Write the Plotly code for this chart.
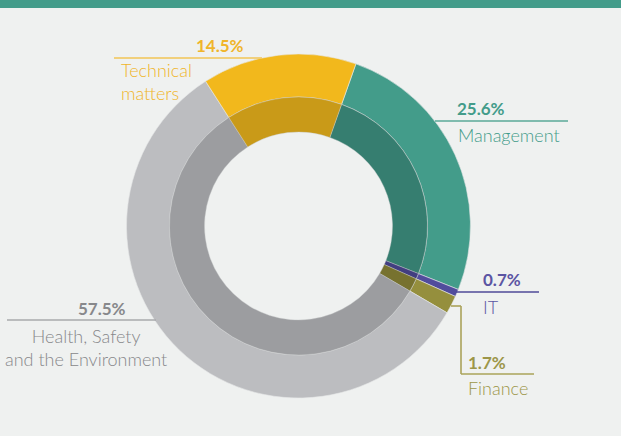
import plotly.graph_objects as go

W, H = 621, 436

categories = ["Management", "IT", "Finance", "Health, Safety and the Environment", "Technical matters"]
shares = [25.6, 0.7, 1.7, 57.5, 14.5]
pct_labels = ["25.6%", "0.7%", "1.7%", "57.5%", "14.5%"]

outer_colors = ["#439c8a", "#514c9c", "#958f3d", "#bcbdc0", "#f2b81c"]
inner_colors = ["#367e70", "#423e80", "#77722f", "#9c9da0", "#c99a18"]
text_colors = ["#439c8a", "#5b55a3", "#9c9648", "#87888b", "#f0b52a"]
line_colors = ["#5aa898", "#4f4a98", "#aaa35a", "#a9aaad", "#f2c456"]

CX, CY = 298.5, 226
R_OUT, R_MID, R_IN = 172, 129, 94


def px(x):
    return x / W


def py(y):
    return 1 - y / H


def dom(r):
    return dict(x=[px(CX - r), px(CX + r)], y=[py(CY + r), py(CY - r)])


fig = go.Figure()
fig.add_trace(go.Pie(
    labels=categories, values=shares, sort=False, direction="clockwise",
    rotation=19.5, hole=R_MID / R_OUT, domain=dom(R_OUT),
    marker=dict(colors=outer_colors, line=dict(color="#e6e8e7", width=0.6)),
    textinfo="none", hoverinfo="skip", showlegend=False,
))
fig.add_trace(go.Pie(
    labels=categories, values=shares, sort=False, direction="clockwise",
    rotation=19.5, hole=R_IN / R_MID, domain=dom(R_MID),
    marker=dict(colors=inner_colors, line=dict(color="#c8cac9", width=0.4)),
    textinfo="none", hoverinfo="skip", showlegend=False,
))

shapes = [
    dict(type="rect", xref="paper", yref="paper", x0=0, x1=1, y0=py(8), y1=1.01,
         fillcolor="#439c8a", line=dict(width=0), layer="above"),
]


def hline(x0, x1, y, color):
    shapes.append(dict(type="line", xref="paper", yref="paper",
                       x0=px(x0), x1=px(x1), y0=py(y), y1=py(y),
                       line=dict(color=color, width=1.6)))


def vline(x, y0, y1, color):
    shapes.append(dict(type="line", xref="paper", yref="paper",
                       x0=px(x), x1=px(x), y0=py(y0), y1=py(y1),
                       line=dict(color=color, width=1.6)))


# leader lines
hline(114, 262, 58, line_colors[4])   # Technical
hline(435, 568, 121, line_colors[0])  # Management
hline(456, 539, 292, line_colors[1])  # IT
hline(451, 461, 306, line_colors[2])  # Finance
vline(461, 306, 374, line_colors[2])
hline(461, 534, 374, line_colors[2])
hline(7, 156, 320, line_colors[3])    # Health

annotations = []
FONT = "Lato, 'Noto Sans', sans-serif"


def text(t, x, y, color, size, bold=False, anchor="center", align="center"):
    annotations.append(dict(
        text=t, xref="paper", yref="paper",
        x=px(x), y=py(y), xanchor=anchor, yanchor="middle", showarrow=False,
        align=align,
        font=dict(family=FONT, size=size, color=color, weight=700 if bold else 300)))


# Technical matters
text(pct_labels[4], 220, 45, text_colors[4], 17, True)
text("Technical<br>matters", 119, 82, text_colors[4], 18, False, "left", "left")
# Management
text(pct_labels[0], 455, 108, text_colors[0], 17, True, "left")
text("Management", 456, 135, text_colors[0], 18, False, "left")
# IT
text(pct_labels[1], 481, 279, text_colors[1], 17, True, "left")
text("IT", 481, 307, text_colors[1], 18, False, "left")
# Finance
text(pct_labels[2], 466, 362, text_colors[2], 17, True, "left")
text("Finance", 466, 388, text_colors[2], 18, False, "left")
# Health
text(pct_labels[3], 102, 308, text_colors[3], 17, True)
text("Health, Safety<br>and the Environment", 86, 347, text_colors[3], 18)

fig.update_layout(
    width=W, height=H, margin=dict(l=0, r=0, t=0, b=0),
    paper_bgcolor="#eff1f0", plot_bgcolor="#eff1f0",
    shapes=shapes, annotations=annotations, showlegend=False,
)

fig.write_html("out.html", config={"displayModeBar": False})

with open("out.html", "r", encoding="utf-8") as f:
    html = f.read()
html = html.replace("<head>", "<head><style>html,body{margin:0;padding:0;background:#eff1f0;overflow:hidden}</style>", 1)
with open("out.html", "w", encoding="utf-8") as f:
    f.write(html)
